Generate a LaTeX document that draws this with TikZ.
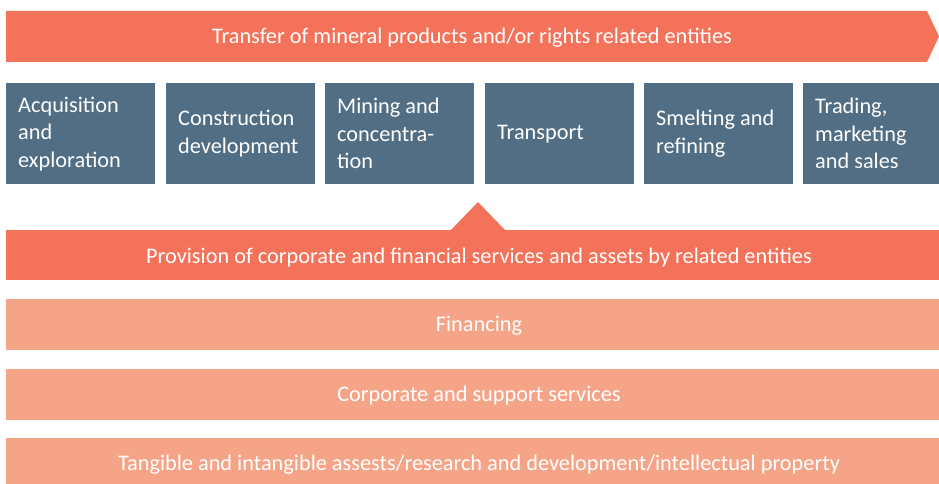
\documentclass[tikz,border=0pt]{standalone}
\usepackage{fontspec}
\setmainfont{Carlito}
\usepackage{tikz}
\usetikzlibrary{positioning}

\definecolor{transferred}{HTML}{F37259}
\definecolor{stageblue}{HTML}{526E84}
\definecolor{servicepink}{HTML}{F6A488}

\tikzset{
  stagebox/.style={fill=stageblue, text=white, minimum height=101pt, minimum width=149pt,
    text width=125pt, inner xsep=12pt, align=flush left, anchor=north west,
    font=\fontsize{22.3}{27.5}\selectfont},
  barlabel/.style={text=white, font=\fontsize{22.3}{26}\selectfont, inner sep=0pt},
}

\begin{document}
\begin{tikzpicture}[x=1pt, y=-1pt]
        \useasboundingbox (0,0) rectangle (939,484);

        % Top arrow
        \fill[transferred] (6,11) -- (927,11) -- (939,36.5) -- (927,62) -- (6,62) -- cycle;
        \node[barlabel] (transfer) at (472,38) {Transfer of mineral products and/or rights related entities};

        % Value chain stages
        \node[stagebox] (acquisition) at (6,83) {Acquisition\\and\\exploration};
        \node[stagebox] (construction) at (166,83) {Construction\\development};
        \node[stagebox] (mining) at (325,83) {Mining and\\concentra-\\tion};
        \node[stagebox] (transport) at (485,83) {Transport};
        \node[stagebox] (smelting) at (644,83) {Smelting and\\refining};
        \node[stagebox, minimum width=136pt, text width=112pt] (trading) at (803,83) {Trading,\\marketing\\and sales};

        % Provision bar with pointer
        \fill[transferred] (6,230) rectangle (939,280);
        \fill[transferred] (451,230) -- (478,202) -- (505,230) -- cycle;
        \node[barlabel] (provision) at (479,258) {Provision of corporate and financial services and assets by related entities};

        % Services
        \fill[servicepink] (6,299) rectangle (939,350);
        \node[barlabel] (financing) at (479,326) {Financing};
        \fill[servicepink] (6,369) rectangle (939,420);
        \node[barlabel] (corporate) at (479,396) {Corporate and support services};
        \fill[servicepink] (6,438) rectangle (939,489);
        \node[barlabel] (tangible) at (479,465) {Tangible and intangible assests/research and development/intellectual property};
    \end{tikzpicture}
\end{document}
